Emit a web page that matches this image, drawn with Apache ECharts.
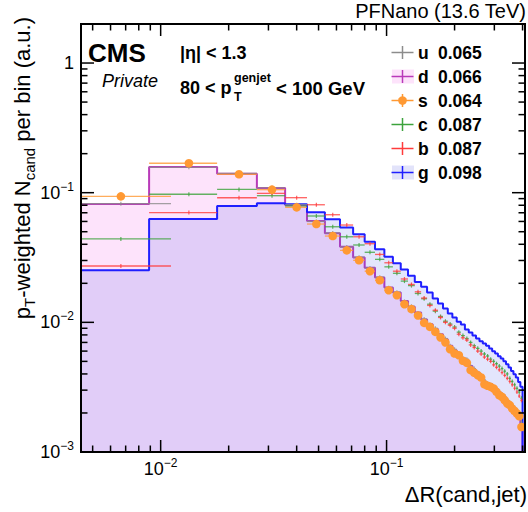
<!DOCTYPE html>
<html><head><meta charset="utf-8">
<script src="https://cdn.jsdelivr.net/npm/echarts@6/dist/echarts.min.js"></script>
<style>html,body{margin:0;padding:0;background:#fff}#c{width:528px;height:512px}</style>
</head><body><div id="c"></div>
<script>
// Histogram definition: 45 regular bins from 0 to 0.4
const nBins = 45, histLow = 0, histHigh = 0.4;
const X_MIN = 0.00444, X_MAX = 0.41, Y_MIN = 0.001, Y_MAX = 2;

const uVals = [0.0822,0.157,0.141,0.1090,0.0808,0.0600,0.0489,0.0381,0.0318,0.0262,0.0223,0.0185,0.0171,0.0145,0.0133,0.0118,0.0106,0.0096,0.0090,0.0080,0.0075,0.0066,0.0062,0.0058,0.0053,0.0052,0.0046,0.0044,0.0041,0.0039,0.0036,0.0034,0.0033,0.0032,0.0031,0.0029,0.0028,0.0027,0.0025,0.0024,0.0023,0.0022,0.0021,0.0020,0.0017];
const dVals = [0.0819,0.158,0.140,0.1086,0.0805,0.0605,0.0486,0.0383,0.0317,0.0264,0.0222,0.0186,0.0170,0.0146,0.0132,0.0119,0.0105,0.00965,0.0089,0.0081,0.0074,0.0066,0.0061,0.0058,0.0053,0.0051,0.0046,0.0043,0.0041,0.0039,0.0035,0.0034,0.00334,0.00322,0.00306,0.0029,0.0028,0.00265,0.0025,0.00241,0.00228,0.00218,0.00208,0.00198,0.00165];
const sVals = [0.0937,0.1686,0.1386,0.1055,0.0771,0.0573,0.0463,0.0359,0.0301,0.0248,0.0211,0.0177,0.0162,0.0138,0.01265,0.0113,0.00991,0.00923,0.00844,0.00765,0.0070,0.00621,0.00575,0.00558,0.00505,0.00487,0.00428,0.00408,0.00391,0.00375,0.00333,0.00324,0.00318,0.00309,0.00291,0.00274,0.00266,0.00251,0.00237,0.0023,0.00216,0.00207,0.00198,0.00189,0.00156];
const cVals = [0.0440,0.0973,0.106,0.0948,0.0789,0.0661,0.0546,0.0457,0.0395,0.0347,0.0306,0.0268,0.0239,0.0208,0.0192,0.0167,0.0152,0.0138,0.0122,0.0111,0.0102,0.0097,0.0092,0.0084,0.0079,0.0075,0.0070,0.0066,0.0063,0.0060,0.0057,0.0055,0.0052,0.0050,0.0048,0.0046,0.0044,0.0042,0.0040,0.0037,0.0035,0.0033,0.0031,0.0029,0.0026];
const bVals = [0.0272,0.0702,0.0914,0.0988,0.0915,0.0807,0.0676,0.0563,0.0457,0.0404,0.0334,0.0288,0.0248,0.0216,0.0196,0.0172,0.0154,0.0135,0.0124,0.0109,0.0100,0.0095,0.0090,0.0081,0.0076,0.0073,0.0067,0.0064,0.0060,0.0057,0.0054,0.0052,0.0050,0.0047,0.0045,0.0043,0.0041,0.0039,0.0037,0.0035,0.0033,0.0031,0.0029,0.0027,0.0025];
const gVals = [0.0252,0.0626,0.0789,0.0828,0.0813,0.0706,0.0623,0.0540,0.0477,0.0418,0.0366,0.0321,0.0285,0.0256,0.0229,0.0205,0.0188,0.0170,0.0153,0.0140,0.0128,0.0117,0.0109,0.0101,0.00964,0.00881,0.00836,0.00792,0.0075,0.00716,0.00687,0.00659,0.00629,0.00599,0.00575,0.00548,0.00526,0.00501,0.00476,0.00449,0.00422,0.00398,0.00375,0.00347,0.00318];

const legendNames = ['u','d','s','c','b','g'];
const legendMeans = ['0.065','0.066','0.064','0.087','0.087','0.098'];
const xMajorTicks = [0.01, 0.1];
const xTickExps = ['\u22122', '\u22121'];
const yMajorTicks = [0.001, 0.01, 0.1, 1];
const yTickExps = ['\u22123', '\u22122', '\u22121', ''];

const FONT = '"Liberation Sans", Arial, Helvetica, sans-serif';
const COL = {u:'#8c8c8c', d:'#b93ab9', s:'#ff9933', c:'#3ca33c', b:'#ff3b3b', g:'#1f1fff'};
const FILL = {d:'#fde3fb', g:'rgba(70,80,235,0.15)'};

const binW = (histHigh - histLow) / nBins;
function histPoints(vals){
  const pts = [[X_MIN, vals[0]]];
  for (let i = 1; i < nBins; i++) pts.push([histLow + i*binW, vals[i]]);
  pts.push([histHigh, vals[nBins-1]]);
  pts.push([histHigh, Y_MIN]);
  return pts;
}
function errPoints(vals){
  return vals.map((v, i) => {
    if (i === 0) return [0.75*binW, v, 0.5*binW, 1.25*binW];
    return [histLow + (i+0.5)*binW, v, histLow + i*binW, histLow + (i+1)*binW];
  });
}
function errSeries(name, vals, color, marker, z){
  return {
    type: 'custom', name, z, clip: true,
    data: errPoints(vals),
    encode: {x: 0, y: 1},
    renderItem(params, api){
      const v = api.value(1);
      const c = api.coord([api.value(0), v]);
      const l = api.coord([api.value(2), v]);
      const h = api.coord([api.value(3), v]);
      const ch = [
        {type:'line', shape:{x1:l[0], y1:c[1], x2:h[0], y2:c[1]}, style:{stroke:color, lineWidth:1.3, opacity:0.8}},
        {type:'line', shape:{x1:c[0], y1:c[1]-2, x2:c[0], y2:c[1]+2}, style:{stroke:color, lineWidth:1.2, opacity:0.8}}
      ];
      if (marker) ch.push({type:'circle', shape:{cx:c[0], cy:c[1], r:4.3}, style:{fill:color}});
      return {type:'group', children: ch};
    }
  };
}
function histSeries(name, vals, color, fill, z){
  return {
    type:'line', name, step:'end', z, showSymbol:false, symbol:'none', clip:true, animation:false,
    data: histPoints(vals),
    lineStyle:{color, width:2},
    areaStyle:{color:fill, origin:'start', opacity:1}
  };
}

const ticksSeries = {
  type:'custom', z: 20, clip:false, silent:true,
  data: [[0.01, 0.01]],
  encode:{x:0, y:1},
  renderItem(params, api){
    const cs = params.coordSys;
    const x0 = cs.x, y0 = cs.y, x1 = cs.x + cs.width, y1 = cs.y + cs.height;
    const ch = [];
    const st = {stroke:'#000', lineWidth:1.5};
    for (let e = -3; e <= 0; e++) {
      for (let m = 1; m < 10; m++) {
        const v = m * Math.pow(10, e);
        if (v >= X_MIN && v <= X_MAX) {
          const p = api.coord([v, 0.01])[0];
          const L = m === 1 ? 12 : 6.5;
          ch.push({type:'line', shape:{x1:p, y1:y1, x2:p, y2:y1-L}, style:st});
          ch.push({type:'line', shape:{x1:p, y1:y0, x2:p, y2:y0+L}, style:st});
        }
        if (v >= Y_MIN && v <= Y_MAX) {
          const q = api.coord([0.01, v])[1];
          const L = m === 1 ? 13 : 6.5;
          ch.push({type:'line', shape:{x1:x0, y1:q, x2:x0+L, y2:q}, style:st});
          ch.push({type:'line', shape:{x1:x1, y1:q, x2:x1-L, y2:q}, style:st});
        }
      }
    }
    ch.push({type:'rect', shape:{x:x0, y:y0, width:cs.width, height:cs.height}, style:{fill:'none', stroke:'#000', lineWidth:2}});
    return {type:'group', children: ch};
  }
};

function expLabel(v, ticks, exps){
  for (let i = 0; i < ticks.length; i++) {
    if (Math.abs(v - ticks[i]) / ticks[i] < 1e-6) {
      return exps[i] === '' ? '{b|1}' : '{b|10}{e|' + exps[i] + '}';
    }
  }
  return '';
}
const labelRich = {
  b: {fontSize: 18, lineHeight: 30, fontFamily: FONT, color:'#000'},
  e: {fontSize: 12, lineHeight: 12, verticalAlign:'top', padding:[3,0,0,0], fontFamily: FONT, color:'#000'}
};

// Legend graphics
const legendEls = [];
legendNames.forEach((n, i) => {
  const y = 52.5 + 24*i, cx = 402.5;
  const col = COL[n];
  if (n === 'd' || n === 'g') legendEls.push({type:'rect', shape:{x:392, y:y-7, width:22, height:14}, style:{fill: n === 'd' ? '#fde3fb' : '#e2e3fa'}});
  legendEls.push({type:'line', shape:{x1:391.5, y1:y, x2:413.5, y2:y}, style:{stroke:col, lineWidth:1.5}});
  legendEls.push({type:'line', shape:{x1:cx, y1:y-6.5, x2:cx, y2:y+6.5}, style:{stroke:col, lineWidth:1.5}});
  if (n === 's') legendEls.push({type:'circle', shape:{cx, cy:y, r:4.3}, style:{fill:col}});
  legendEls.push({type:'text', x:418, y:y, style:{text:n, fontFamily:FONT, fontSize:17.5, fontWeight:'bold', fill:'#000', align:'left', verticalAlign:'middle', textAlign:'left', textVerticalAlign:'middle'}});
  legendEls.push({type:'text', x:438, y:y, style:{text:legendMeans[i], fontFamily:FONT, fontSize:17.5, fontWeight:'bold', fill:'#000', align:'left', verticalAlign:'middle', textAlign:'left', textVerticalAlign:'middle'}});
});

function txt(x, y, text, opts){
  return Object.assign({type:'text', x, y, z:30, style: Object.assign({text, fontFamily:FONT, fill:'#000', align:'left', verticalAlign:'middle', textAlign:'left', textVerticalAlign:'middle'}, opts)});
}
const textEls = [
  txt(526, 11, 'PFNano (13.6 TeV)', {fontSize:20, align:'right', textAlign:'right'}),
  txt(88, 52.5, 'CMS', {fontSize:26, fontWeight:'bold'}),
  txt(102, 81, 'Private', {fontSize:18, fontStyle:'italic'}),
  txt(180, 52.5, '|\u03b7| < 1.3', {fontSize:18, fontWeight:'bold'}),
  txt(180, 88, '80 < p', {fontSize:18, fontWeight:'bold'}),
  txt(234, 78, 'genjet', {fontSize:12.5, fontWeight:'bold'}),
  txt(234, 97, 'T', {fontSize:12.5, fontWeight:'bold'}),
  txt(276, 88, '< 100 GeV', {fontSize:18.5, fontWeight:'bold'}),
  txt(527, 494, '\u0394R(cand,jet)', {fontSize:22, align:'right', textAlign:'right'}),
  {type:'text', x:22, y:17, rotation: Math.PI/2, z:30, style:{
    text:'{a|p}{s|T}{a|-weighted N}{s|cand}{a| per bin (a.u.)}',
    align:'right', verticalAlign:'middle', textAlign:'right', textVerticalAlign:'middle',
    rich:{
      a:{fontSize:22, lineHeight:30, fontFamily:FONT, fill:'#000', color:'#000'},
      s:{fontSize:15, lineHeight:15, verticalAlign:'bottom', padding:[6,0,0,0], fontFamily:FONT, fill:'#000', color:'#000'}
    }
  }}
];

const chart = echarts.init(document.getElementById('c'), null, {renderer:'svg', width:528, height:512});
chart.setOption({
  animation:false,
  backgroundColor:'#fff',
  grid:{left:81, right:1, top:24, bottom:60, containLabel:false},
  xAxis:{type:'log', logBase:10, min:X_MIN, max:X_MAX,
    axisLine:{show:false}, axisTick:{show:false}, splitLine:{show:false}, minorTick:{show:false},
    axisLabel:{margin:2, formatter:v => expLabel(v, xMajorTicks, xTickExps), rich:labelRich, showMinLabel:true, showMaxLabel:true}},
  yAxis:{type:'log', logBase:10, min:Y_MIN, max:Y_MAX,
    axisLine:{show:false}, axisTick:{show:false}, splitLine:{show:false}, minorTick:{show:false},
    axisLabel:{margin:7, formatter:v => expLabel(v, yMajorTicks, yTickExps), rich:labelRich}},
  graphic:{elements: legendEls.concat(textEls)},
  series:[
    histSeries('d', dVals, COL.d, FILL.d, 1),
    histSeries('g', gVals, COL.g, FILL.g, 2),
    errSeries('u', uVals, COL.u, false, 5),
    errSeries('c', cVals, COL.c, false, 6),
    errSeries('b', bVals, COL.b, false, 7),
    errSeries('s', sVals, COL.s, true, 8),
    ticksSeries
  ]
});
</script></body></html>
